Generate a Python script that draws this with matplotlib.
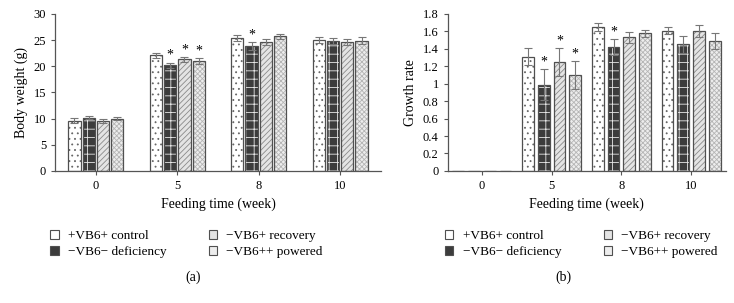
import numpy as np
import matplotlib
matplotlib.use('Agg')
import matplotlib.pyplot as plt
from matplotlib.patches import Patch

weeks = ['0', '5', '8', '10']
groups = ['+VB6+ control', '\u2212VB6\u2212 deficiency', '\u2212VB6+ recovery', '\u2212VB6++ powered']

# body weight (g), columns = weeks
bw = [[9.6, 22.1, 25.4, 25.0],
      [10.2, 20.2, 23.9, 24.8],
      [9.5, 21.3, 24.6, 24.6],
      [10.0, 21.0, 25.7, 24.9]]
bw_err = [[0.5, 0.5, 0.5, 0.5],
          [0.3, 0.5, 0.7, 0.6],
          [0.4, 0.5, 0.6, 0.6],
          [0.3, 0.5, 0.4, 0.6]]
bw_star = [[0, 0, 0, 0], [0, 1, 1, 0], [0, 1, 0, 0], [0, 1, 0, 0]]

# growth rate
gr = [[0, 1.31, 1.65, 1.61],
      [0, 0.99, 1.42, 1.45],
      [0, 1.25, 1.53, 1.60],
      [0, 1.10, 1.58, 1.49]]
gr_err = [[0, 0.10, 0.05, 0.04],
          [0, 0.18, 0.09, 0.10],
          [0, 0.16, 0.06, 0.07],
          [0, 0.16, 0.04, 0.09]]
gr_star = [[0, 0, 0, 0], [0, 1, 1, 0], [0, 1, 0, 0], [0, 1, 0, 0]]

plt.rcParams['font.family'] = ['Liberation Serif', 'DejaVu Serif']
plt.rcParams['font.size'] = 9
plt.rcParams['hatch.linewidth'] = 0.6

fills = ['white', '#3c3c3c', '#e4e4e4', '#ededed']
hatches = ['...', '++', '//////', 'xxxxxxx']
hcols = ['#666666', '#e8e8e8', '#8a8a8a', '#b5b5b5']
edge = '#505050'


def draw(ax, vals, errs, stars, pitch, width, ymax, ystep, ylabel, xl):
    x = np.arange(len(weeks))
    for i in range(4):
        pos = x + (i - 1.5) * pitch
        v = np.array(vals[i])
        ax.bar(pos, v, width, color=fills[i], edgecolor=hcols[i], hatch=hatches[i], lw=0, zorder=2)
        ax.bar(pos, v, width, facecolor='none', edgecolor=edge, lw=0.9, zorder=3)
        show = v > 0
        ax.errorbar(pos[show], v[show], yerr=np.array(errs[i])[show], fmt='none',
                    ecolor='#777777', elinewidth=0.8, capsize=3, capthick=0.8, zorder=4)
        for j in range(len(weeks)):
            if stars[i][j]:
                ax.text(pos[j], v[j] + errs[i][j] + ymax * 0.005, '*', ha='center', va='bottom', fontsize=10)
    ax.set_xlim(xl)
    ax.set_ylim(0, ymax)
    ax.set_yticks(np.arange(0, ymax + ystep / 2, ystep))
    ax.set_xticks(x)
    ax.set_xticklabels(weeks)
    ax.set_ylabel(ylabel, fontsize=10)
    ax.set_xlabel('Feeding time (week)', fontsize=10)
    for s in ['top', 'right']:
        ax.spines[s].set_visible(False)
    for s in ['left', 'bottom']:
        ax.spines[s].set_color('#555555')
        ax.spines[s].set_linewidth(0.9)
    ax.tick_params(colors='#555555', labelcolor='black', length=3, width=0.8)


fig = plt.figure(figsize=(7.34, 3.03), dpi=100)
ax1 = fig.add_axes([0.075, 0.436, 0.444, 0.518])
ax2 = fig.add_axes([0.610, 0.436, 0.379, 0.518])

draw(ax1, bw, bw_err, bw_star, 0.175, 0.15, 30, 5, 'Body weight (g)', (-0.5, 3.5))
draw(ax2, gr, gr_err, gr_star, 0.225, 0.17, 1.8, 0.2, 'Growth rate', (-0.49, 3.5))
ax2.set_yticklabels(['0', '0.2', '0.4', '0.6', '0.8', '1', '1.2', '1.4', '1.6', '1.8'])

handles = [Patch(facecolor=fills[i], edgecolor=edge, lw=0.8) for i in range(4)]
for cx, lx, lab in [(0.254, 0.263, '(a)'), (0.792, 0.767, '(b)')]:
    fig.legend(handles, groups, loc='center', bbox_to_anchor=(cx, 0.195), ncol=2,
               frameon=False, fontsize=9.5, handlelength=0.65, handleheight=0.65,
               columnspacing=3.2, labelspacing=0.3, handletextpad=0.7)
    fig.text(lx, 0.085, lab, ha='center', va='center', fontsize=10)

fig.savefig('out.png', dpi=100)
